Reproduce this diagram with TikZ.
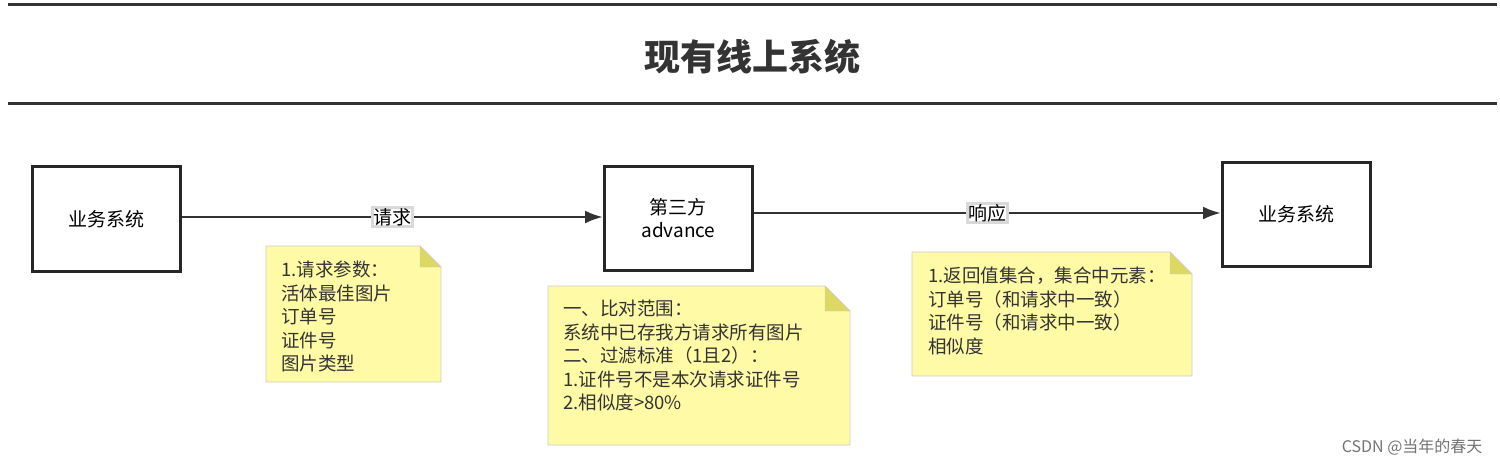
\documentclass[tikz,border=0pt]{standalone}
\usepackage{fontspec}
\usetikzlibrary{arrows.meta}
\setmainfont{Noto Sans CJK SC}
\begin{document}
\begin{tikzpicture}[x=1pt,y=-1pt,
 box/.style={draw=black!85,line width=2.8pt,minimum width=148pt,anchor=north west,inner sep=0pt},
 arr/.style={draw=black!80,line width=2.8pt,-{Latex[length=18pt,width=13pt]}},
 lbl/.style={fill=white,draw=black!15,inner sep=1pt,font=\fontsize{19}{22}\selectfont},
 ntext/.style={anchor=north west,align=left,inner sep=0pt,font=\fontsize{18.5}{23.5}\selectfont,text=black!80},
 nfill/.style={fill=yellow!35!white,draw=black!20,line width=0.8pt}]
\useasboundingbox (0,0) rectangle (1500,467);
\draw[line width=3pt,black!80] (8,4) -- (1497,4);
\draw[line width=3pt,black!80] (8,103) -- (1497,103);
\node[font=\bfseries\fontsize{36}{40}\selectfont,text=black!80] (title) at (752,57) {现有线上系统};
\node[box,minimum height=105pt,font=\fontsize{19}{22}\selectfont] (b1) at (31,165) {业务系统};
\node[box,minimum height=104pt,align=center,font=\fontsize{19}{23}\selectfont] (b2) at (603,165) {第三方\\advance};
\node[box,minimum height=104pt,font=\fontsize{19}{22}\selectfont] (b3) at (1221,161) {业务系统};
\draw[arr] (b1.east |- 0,217) -- node[lbl]{请求} (b2.west |- 0,217);
\draw[arr] (b2.east |- 0,213) -- node[lbl,pos=0.5]{响应} (b3.west |- 0,213);
% notes
\newcommand{\mynote}[5]{% x1 y1 x2 y2 fold
 \path[nfill] (#1,#2) -- ({#3-#5},#2) -- (#3,{#2+#5}) -- (#3,#4) -- (#1,#4) -- cycle;
 \path[fill=yellow!45!olive!55!white,draw=black!20] ({#3-#5},#2) -- ({#3-#5},{#2+#5}) -- (#3,{#2+#5}) -- cycle;}
\mynote{266}{246}{441}{382}{21}
\mynote{548}{286}{850}{445}{25}
\mynote{912}{252}{1192}{376}{22}
\node[ntext] (n1) at (281,261) {1.请求参数：\\活体最佳图片\\订单号\\证件号\\图片类型};
\node[ntext] (n2) at (563,300) {一、比对范围：\\系统中已存我方请求所有图片\\二、过滤标准（1且2）：\\1.证件号不是本次请求证件号\\2.相似度>80\%};
\node[ntext] (n3) at (928,267) {1.返回值集合，集合中元素：\\订单号（和请求中一致）\\证件号（和请求中一致）\\相似度};
\node[font=\fontsize{16}{18}\selectfont,text=black!55,anchor=east] (wm) at (1486,447) {CSDN @当年的春天};
\end{tikzpicture}
\end{document}
